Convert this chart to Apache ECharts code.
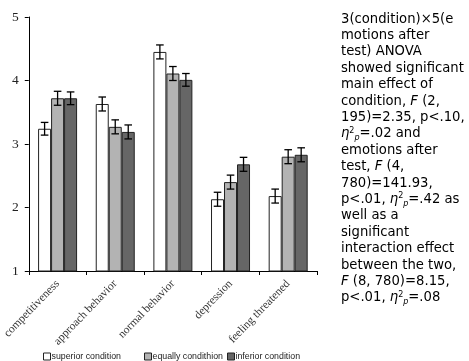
<!DOCTYPE html>
<html><head><meta charset="utf-8">
<script src="https://cdn.jsdelivr.net/npm/echarts@6/dist/echarts.min.js"></script>
<style>html,body{margin:0;padding:0;background:#fff}#c{width:469px;height:361px}</style>
</head><body><div id="c"></div>
<script>
var categories = ['competitiveness','approach behavior','normal behavior','depression','feeling threatened'];
var seriesNames = ['superior condition','equally condithion','inferior condition'];
var superior = [3.24, 3.63, 4.45, 2.13, 2.18];
var equally = [3.72, 3.27, 4.11, 2.40, 2.80];
var inferior = [3.72, 3.19, 4.01, 2.68, 2.83];
var superiorErr = [0.10, 0.11, 0.11, 0.11, 0.11];
var equallyErr = [0.11, 0.11, 0.11, 0.11, 0.11];
var inferiorErr = [0.10, 0.11, 0.10, 0.11, 0.11];
var yTicks = [1, 2, 3, 4, 5];

var means = [superior, equally, inferior];
var errs = [superiorErr, equallyErr, inferiorErr];
var colors = ['#ffffff', '#b3b3b3', '#666666'];
var BW = 13;

var chart = echarts.init(document.getElementById('c'), null, {renderer:'canvas'});
var series = [];
means.forEach(function(m, s){
  series.push({
    name: seriesNames[s], type:'bar', data:m, barWidth:BW, barGap:'0%',
    itemStyle:{color:colors[s], borderColor:'#222', borderWidth:1},
    animation:false, z:2
  });
});
means.forEach(function(m, s){
  var d = m.map(function(v,i){ return [i, v - errs[s][i], v + errs[s][i]]; });
  series.push({
    type:'custom', data:d, z:5, animation:false, silent:true,
    encode:{x:0, y:[1,2]},
    renderItem:function(params, api){
      var lo = api.coord([api.value(0), api.value(1)]);
      var hi = api.coord([api.value(0), api.value(2)]);
      var x = lo[0] + (s-1)*BW;
      var c = 3.8;
      var st = {stroke:'#000', lineWidth:1.3};
      return {type:'group', children:[
        {type:'line', shape:{x1:x, y1:lo[1], x2:x, y2:hi[1]}, style:st},
        {type:'line', shape:{x1:x-c, y1:lo[1], x2:x+c, y2:lo[1]}, style:st},
        {type:'line', shape:{x1:x-c, y1:hi[1], x2:x+c, y2:hi[1]}, style:st}
      ]};
    }
  });
});

var textLines = [
  '3(condition)×5(e',
  'motions after',
  'test) ANOVA',
  'showed significant',
  'main effect of',
  'condition, {i|F} (2,',
  '195)=2.35, p<.10,',
  '{i|η}{sup|2}{sub|p}=.02 and',
  'emotions after',
  'test, {i|F} (4,',
  '780)=141.93,',
  'p<.01, {i|η}{sup|2}{sub|p}=.42 as',
  'well as a',
  'significant',
  'interaction effect',
  'between the two,',
  '{i|F} (8, 780)=8.15,',
  'p<.01, {i|η}{sup|2}{sub|p}=.08'
];

var legendLefts = [43, 144, 227];
var legends = seriesNames.map(function(n, k){
  return {
    data:[n], top:352, left:legendLefts[k], itemWidth:7, itemHeight:7, itemGap:0, padding:0,
    icon:'rect',
    itemStyle:{borderColor:'#222', borderWidth:1},
    textStyle:{fontFamily:'Liberation Sans', fontSize:8.8, color:'#222', padding:[0,0,0,-4]}
  };
});

var FS = 13.2, LH = 16.4;
var option = {
  backgroundColor:'#fff',
  animation:false,
  grid:{left:26, right:152, top:17, bottom:90, containLabel:false},
  legend:legends,
  xAxis:{
    type:'category', data:categories,
    axisLine:{lineStyle:{color:'#000', width:1}},
    axisTick:{show:true, alignWithLabel:false, length:4, lineStyle:{color:'#000'}},
    axisLabel:{rotate:46, interval:0, fontFamily:'Liberation Serif', fontSize:11.5, color:'#333', margin:11}
  },
  yAxis:{
    type:'value', min:1, max:5, interval:1,
    axisLine:{show:true, lineStyle:{color:'#000', width:1}},
    axisTick:{show:true, length:4, lineStyle:{color:'#000'}},
    splitLine:{show:false},
    axisLabel:{fontFamily:'Liberation Serif', fontSize:13.5, color:'#222', margin:10,
      formatter:function(v){ return yTicks.indexOf(v) >= 0 ? String(v) : ''; }}
  },
  series:series,
  graphic:[{
    type:'text', left:341, top:11,
    style:{
      text:textLines.join('\n'),
      fontFamily:'DejaVu Sans', fontSize:FS, lineHeight:LH, fill:'#000',
      rich:{
        i:{fontStyle:'italic', fontFamily:'DejaVu Sans', fontSize:FS, lineHeight:LH},
        sup:{fontFamily:'DejaVu Sans', fontSize:8, verticalAlign:'top', lineHeight:LH, padding:[1,0,0,0]},
        sub:{fontFamily:'DejaVu Sans', fontSize:8, fontStyle:'italic', verticalAlign:'bottom', lineHeight:LH, padding:[0,0,0,0]}
      }
    }
  }]
};
chart.setOption(option);
</script></body></html>
